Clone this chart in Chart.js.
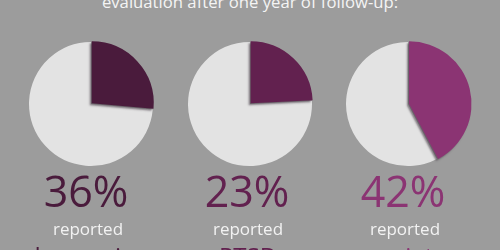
<!DOCTYPE html>
<html>
<head>
<meta charset="utf-8">
<script src="https://cdn.jsdelivr.net/npm/chart.js@4"></script>
<style>
  html, body { margin: 0; padding: 0; }
  body { width: 500px; height: 250px; background: #9c9c9c; position: relative; overflow: hidden; font-family: "Open Sans", sans-serif; }
  .t { position: absolute; white-space: nowrap; line-height: 1; transform: translateX(-50%); }
  canvas { position: absolute; }
</style>
</head>
<body>
<div class="t" style="left:250px;top:-6px;font-size:16.7px;color:#f4f4f4">evaluation after one year of follow-up:</div>
<canvas id="pie0" width="150" height="150"></canvas>
<canvas id="pie1" width="150" height="150"></canvas>
<canvas id="pie2" width="150" height="150"></canvas>
<div id="labels"></div>
<script>
const groups = ['depression', 'PTSD', 'anxiety']
const percentLabels = ['36%', '23%', '42%']
// slice sizes as they are drawn in the picture (in %)
const drawnShare = [26.4, 24.2, 42.3]
const sliceColors = ['#4a1b3c', '#62214f', '#8b3473']
const restColor = '#e3e3e3'

const centersX = [91, 250, 408]
const textX = [86, 247, 403]
const reportedX = [88, 248, 405]

const labelBox = document.getElementById('labels')

groups.forEach((g, i) => {
    const canvas = document.getElementById('pie' + i)
    canvas.style.left = (centersX[i] - 75) + 'px'
    canvas.style.top = (104 - 75) + 'px'

    const share = drawnShare[i]
    const chart = new Chart(canvas, {
        type: 'pie',
        data: {
            labels: ['other', g],
            datasets: [{
                data: [100 - share, share],
                backgroundColor: [restColor, sliceColors[i]],
                borderWidth: 0,
                offset: [0, 4]
            }]
        },
        options: {
            responsive: false,
            animation: false,
            radius: 62,
            rotation: share * 3.6,
            plugins: {
                legend: { display: false },
                tooltip: { enabled: false }
            }
        }
    })

    // soft drop shadow only on the coloured slice
    const arc = chart.getDatasetMeta(0).data[1]
    const drawArc = arc.draw.bind(arc)
    arc.draw = (ctx) => {
        ctx.save()
        ctx.shadowColor = 'rgba(70,60,70,0.6)'
        ctx.shadowBlur = 2
        ctx.shadowOffsetX = -2
        ctx.shadowOffsetY = 2
        drawArc(ctx)
        ctx.restore()
    }
    chart.draw()

    labelBox.insertAdjacentHTML('beforeend',
        `<div class="t" style="left:${textX[i]}px;top:169px;font-size:43px;color:${sliceColors[i]}">${percentLabels[i]}</div>` +
        `<div class="t" style="left:${reportedX[i]}px;top:220px;font-size:17px;color:#f2f2f2">reported</div>` +
        `<div class="t" style="left:${reportedX[i]}px;top:244px;font-size:24px;color:${sliceColors[i]}">${g}</div>`)
})
</script>
</body>
</html>
